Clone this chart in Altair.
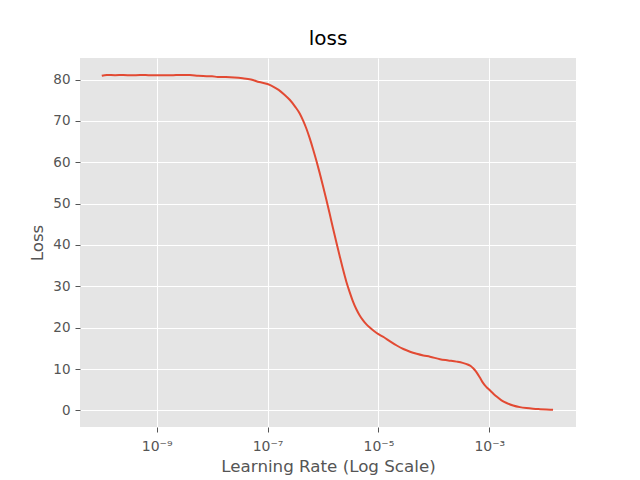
import altair as alt
import pandas as pd

# log10 of learning rate, and loss
lr_exp = [-9.99, -9.9, -9.75, -9.6, -9.45, -9.3, -9.15, -9.0, -8.85, -8.7, -8.55, -8.4,
          -8.25, -8.1, -8.0, -7.9, -7.75, -7.6, -7.45, -7.3, -7.15, -7.0, -6.9, -6.8,
          -6.7, -6.6, -6.5, -6.42, -6.356, -6.30, -6.24, -6.18, -6.12, -6.06, -6.00,
          -5.94, -5.88, -5.82, -5.76, -5.70, -5.64, -5.58, -5.52, -5.46, -5.40, -5.34,
          -5.28, -5.22, -5.16, -5.08, -5.0, -4.9, -4.79, -4.67, -4.55, -4.43, -4.31, -4.19,
          -4.07, -3.89, -3.74, -3.59, -3.48, -3.38, -3.33, -3.29, -3.245, -3.2, -3.155,
          -3.11, -3.055, -3.0, -2.93, -2.868, -2.78, -2.688, -2.57, -2.448, -2.33,
          -2.21, -2.09, -1.97, -1.85]
loss = [80.9, 81.1, 81.05, 81.1, 81.0, 81.1, 81.05, 81.0, 81.0, 81.05, 81.1, 81.1,
        80.9, 80.8, 80.8, 80.6, 80.6, 80.5, 80.3, 80.0, 79.4, 78.9, 78.3, 77.5,
        76.4, 75.1, 73.4, 71.8, 70.0, 68.16, 65.83, 63.22, 60.42, 57.43, 54.25,
        50.97, 47.59, 44.11, 40.72, 37.41, 34.17, 31.19, 28.67, 26.39, 24.53, 23.03,
        21.83, 20.87, 20.09, 19.21, 18.45, 17.7, 16.7, 15.7, 14.85, 14.2, 13.7, 13.3,
        13.0, 12.4, 12.1, 11.8, 11.5, 11.05, 10.7, 10.2, 9.5, 8.6, 7.6,
        6.6, 5.7, 5.0, 4.1, 3.35, 2.45, 1.8, 1.2, 0.8, 0.57,
        0.42, 0.32, 0.24, 0.17]
x_ticks = [1e-9, 1e-7, 1e-5, 1e-3]
y_ticks = [0, 10, 20, 30, 40, 50, 60, 70, 80]

df = pd.DataFrame({"lr": [10 ** e for e in lr_exp], "loss": loss})

font = "DejaVu Sans"
label_expr = ("datum.value < 1e-8 ? '10⁻⁹' : datum.value < 1e-6 ? '10⁻⁷' : "
              "datum.value < 1e-4 ? '10⁻⁵' : '10⁻³'")

chart = alt.Chart(df).mark_line(color="#E24A33", strokeWidth=2, interpolate="monotone").encode(
    x=alt.X("lr:Q",
            scale=alt.Scale(type="log", domain=[10 ** -10.383, 10 ** -1.436], nice=False),
            axis=alt.Axis(values=x_ticks, labelExpr=label_expr, title="Learning Rate (Log Scale)",
                          titlePadding=5, labelPadding=7, labelFontSize=14, labelFlush=False)),
    y=alt.Y("loss:Q",
            scale=alt.Scale(domain=[-4.0, 85.2], nice=False, zero=False),
            axis=alt.Axis(values=y_ticks, title="Loss", titlePadding=6, labelPadding=5)),
).properties(
    width=496, height=369,
    title=alt.TitleParams("loss", fontSize=20, font=font, fontWeight="normal",
                          color="black", offset=9),
    autosize=alt.AutoSizeParams(type="none"),
    padding={"left": 80, "top": 58, "right": 64, "bottom": 53},
    background="white",
).configure_view(
    fill="#E5E5E5", stroke=None
).configure_axis(
    domain=False, grid=True, gridColor="white", gridWidth=1, gridOpacity=1,
    tickColor="#555555", tickSize=5, tickWidth=1,
    labelColor="#555555", labelFont=font, labelFontSize=13.5,
    titleColor="#555555", titleFont=font, titleFontSize=16.7, titleFontWeight="normal",
)

chart.save("out.html", embed_options={"renderer": "svg", "actions": False})
